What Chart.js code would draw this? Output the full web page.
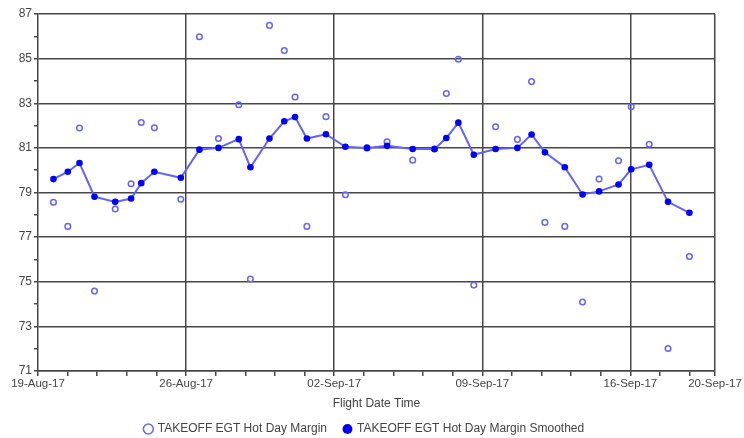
<!DOCTYPE html>
<html>
<head>
<meta charset="utf-8">
<script src="https://cdn.jsdelivr.net/npm/chart.js@4.4.0/dist/chart.umd.min.js"></script>
<style>
body { margin: 0; background: #fff; }
#wrap { width: 744px; height: 438px; }
</style>
</head>
<body>
<div id="wrap"><canvas id="mycanvas" width="744" height="438"></canvas></div>
<script>
// flight times, in days after 19-Aug-17 00:00
var flightDay = [0.73, 1.41, 1.96, 2.67, 3.65, 4.40, 4.88, 5.50, 6.75, 7.63,
                 8.53, 9.49, 10.04, 10.94, 11.64, 12.15, 12.71, 13.61, 14.53, 15.55,
                 16.50, 17.71, 18.74, 19.30, 19.87, 20.60, 21.63, 22.66, 23.33, 23.96,
                 24.90, 25.74, 26.52, 27.44, 28.04, 28.89, 29.78, 30.79];
var hotDayMargin = [78.56, 77.48, 81.89, 74.58, 78.26, 79.39, 82.14, 81.90, 78.70, 85.98,
                    81.42, 82.93, 75.12, 86.49, 85.36, 83.28, 77.48, 82.40, 78.90, 81.00,
                    81.27, 80.45, 80.95, 83.44, 84.97, 74.85, 81.95, 81.38, 83.97, 77.66,
                    77.48, 74.09, 79.60, 80.42, 82.84, 81.16, 72.01, 76.13];
var hotDayMarginSmoothed = [79.60, 79.93, 80.32, 78.81, 78.58, 78.73, 79.42, 79.93, 79.66, 80.92,
                            81.00, 81.39, 80.13, 81.42, 82.19, 82.38, 81.42, 81.61, 81.05, 81.00,
                            81.09, 80.95, 80.95, 81.44, 82.13, 80.69, 80.95, 81.00, 81.60, 80.80,
                            80.13, 78.91, 79.05, 79.36, 80.04, 80.24, 78.58, 78.09];
var weekDay = [0, 7, 14, 21, 28, 32];
var weekLabel = ['19-Aug-17', '26-Aug-17', '02-Sep-17', '09-Sep-17', '16-Sep-17', '20-Sep-17'];

var gridCol = '#474747';
var textCol = '#444';

function pts(ys) {
	var out = [];
	for (var i in flightDay) {
		out.push({x: flightDay[i], y: ys[i]});
	}
	return out;
}

function isWeek(v) {
	return weekDay.indexOf(Math.round(v * 10) / 10);
}

Chart.defaults.font.family = "'Liberation Sans', Arial, sans-serif";
Chart.defaults.font.size = 12;
Chart.defaults.color = textCol;

var ctx = document.getElementById('mycanvas');
var chart = new Chart(ctx, {
	type: 'line',
	data: {
		datasets: [
			{
				label: 'TAKEOFF EGT Hot Day Margin',
				data: pts(hotDayMargin),
				showLine: false,
				order: 1,
				borderColor: '#6464ff',
				backgroundColor: 'rgba(0,0,0,0)',
				borderWidth: 1.5,
				pointRadius: 2.8,
				pointBorderWidth: 1.5,
				pointBackgroundColor: 'rgba(0,0,0,0)',
				pointBorderColor: '#6464ff'
			},
			{
				label: 'TAKEOFF EGT Hot Day Margin Smoothed',
				data: pts(hotDayMarginSmoothed),
				order: 0,
				borderColor: '#6262ff',
				backgroundColor: '#0000ff',
				borderWidth: 2,
				tension: 0,
				pointRadius: 3.3,
				pointBorderWidth: 0,
				pointBackgroundColor: '#0000ff',
				pointBorderColor: '#0000ff'
			}
		]
	},
	options: {
		responsive: false,
		animation: false,
		layout: { padding: { left: 14, right: 29, top: 14, bottom: -7 } },
		plugins: {
			tooltip: { enabled: false },
			legend: {
				position: 'bottom',
				labels: {
					usePointStyle: true,
					boxWidth: 7,
					boxHeight: 7,
					padding: 17,
					color: textCol,
					sort: function(a, b) { return a.datasetIndex - b.datasetIndex; }
				}
			}
		},
		scales: {
			x: {
				type: 'linear',
				min: 0,
				max: 32,
				afterBuildTicks: function(scale) {
					var t = [];
					for (var i = 0; i * 1.4 < 31; i++) t.push({value: Math.round(i * 14) / 10});
					t.push({value: 32});
					scale.ticks = t;
				},
				afterFit: function(scale) { scale.height = 35; },
				border: { color: gridCol, width: 1.5 },
				grid: {
					lineWidth: 1.5,
					color: function(c) { return isWeek(c.tick.value) > 0 ? gridCol : 'rgba(0,0,0,0)'; },
					tickColor: gridCol,
					tickLength: 5
				},
				ticks: {
					autoSkip: false,
					maxRotation: 0,
					padding: 1,
					font: { size: 11.5 },
					callback: function(v) {
						var k = isWeek(v);
						return k >= 0 ? weekLabel[k] : '';
					}
				},
				title: {
					display: true,
					text: 'Flight Date Time',
					color: textCol,
					padding: { top: 0, bottom: -5 }
				}
			},
			y: {
				min: 71,
				max: 87,
				afterFit: function(scale) { scale.width = 24; },
				border: { color: gridCol, width: 1.5 },
				grid: {
					lineWidth: 1.5,
					color: function(c) { return c.tick.value % 2 === 1 ? gridCol : 'rgba(0,0,0,0)'; },
					tickColor: gridCol,
					tickLength: 4
				},
				ticks: {
					stepSize: 1,
					padding: 2,
					autoSkip: false,
					callback: function(v) { return v % 2 === 1 ? String(v) : ''; }
				}
			}
		}
	}
});
</script>
</body>
</html>
